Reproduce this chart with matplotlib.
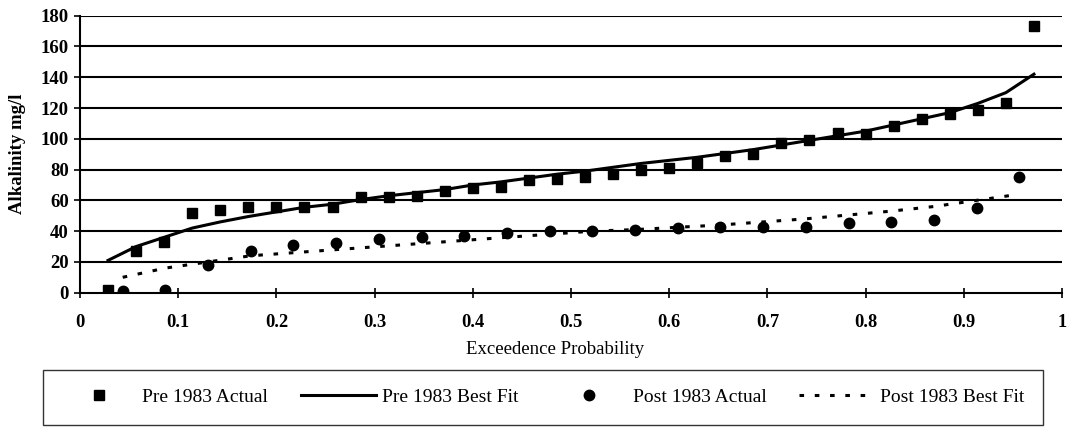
import matplotlib
matplotlib.use("Agg")
import matplotlib.pyplot as plt
import numpy as np

plt.rcParams["font.family"] = ["Liberation Serif", "DejaVu Serif"]

# exceedence probability of each ranked sample (pre 1983: 34 samples, post: 22)
pre_p = np.arange(1, 35) / 35
post_p = np.arange(1, 23) / 23

pre_actual = [2, 27, 33, 52, 54, 56, 56, 56, 56, 62, 62, 63, 66, 68, 69, 73, 74,
              75, 77, 80, 81, 84, 89, 90, 97, 99, 104, 103, 108, 113, 116, 119,
              123, 173]
pre_fit = [21, 30, 36, 42, 46, 49.5, 52.5, 55.5, 57.5, 60.5, 63, 65, 67, 70, 72,
           74.5, 77, 79, 81.5, 84, 86, 88, 90.5, 93, 96, 99, 102, 105, 109, 113,
           117, 123, 130, 142]

post_actual = [1, 2, 18, 27, 31, 32, 35, 36, 37, 39, 40, 40, 41, 42, 43, 43, 43,
               45, 46, 47, 55, 75]
post_fit = [10, 16, 20, 24, 26, 28, 30, 32, 34, 36, 38, 40, 41, 42.5, 44, 46, 48,
            50.5, 53, 56, 60, 64]

labels = ["Pre 1983 Actual", "Pre 1983 Best Fit",
          "Post 1983 Actual", "Post 1983 Best Fit"]

W, H = 1070, 433
fig = plt.figure(figsize=(W / 100, H / 100), dpi=100)
ax = fig.add_axes([80 / W, 1 - 292.7 / H, 982 / W, 277 / H])

for y in range(20, 181, 20):
    ax.axhline(y, color="black", lw=1.5, zorder=1)

h1, = ax.plot(pre_p, pre_actual, ls="none", marker="s", ms=6.5, color="black",
              zorder=3)
h2, = ax.plot(pre_p, pre_fit, color="black", lw=2.2, zorder=2)
h3, = ax.plot(post_p, post_actual, ls="none", marker="o", ms=7.5, color="black",
              zorder=3)
h4, = ax.plot(post_p, post_fit, color="black", lw=2.2, ls=(0, (1.5, 3.5)),
              zorder=2)

ax.set_xlim(0, 1)
ax.set_ylim(0, 180)
ax.set_xticks(np.arange(0, 1.01, 0.1))
ax.set_xticklabels(["0", "0.1", "0.2", "0.3", "0.4", "0.5", "0.6", "0.7",
                    "0.8", "0.9", "1"])
ax.set_yticks(range(0, 181, 20))
for s in ["top", "right"]:
    ax.spines[s].set_visible(False)
for s in ["left", "bottom"]:
    ax.spines[s].set_linewidth(1.5)
ax.tick_params(axis="x", direction="inout", length=7, width=1.2, pad=12,
               labelsize=13.3)
ax.tick_params(axis="y", direction="out", length=4, width=1.2, pad=4,
               labelsize=13.5)
for t in ax.get_yticklabels() + ax.get_xticklabels():
    t.set_fontweight("bold")

ax.set_xlabel("Exceedence Probability", fontsize=13.5, va="center")
ax.xaxis.set_label_coords((555 - 80) / 982, (292.7 - 350) / 277)
ax.set_ylabel("Alkalinity mg/l", fontsize=13.5, fontweight="bold", va="center")
ax.yaxis.set_label_coords((18 - 80) / 982, 0.5)

leg = fig.legend([h1, h2, h3, h4], labels, ncol=4, loc="upper left",
                 bbox_to_anchor=(43 / W, 1 - 370 / H),
                 fontsize=14, frameon=True, fancybox=False, handlelength=3.86,
                 handletextpad=0.3, columnspacing=1.7, borderaxespad=0,
                 borderpad=0.95)
leg.get_frame().set_edgecolor("black")
leg.get_frame().set_linewidth(1.0)

fig.savefig("out.png", dpi=100, facecolor="white")
